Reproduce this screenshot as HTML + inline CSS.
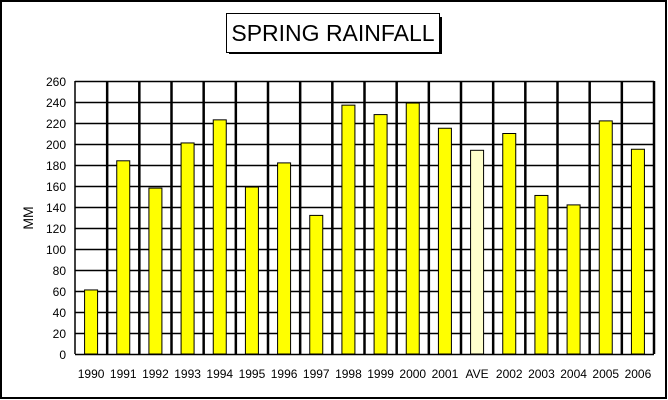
<!DOCTYPE html>
<html><head><meta charset="utf-8"><style>
html,body{margin:0;padding:0;background:#fff;}
svg{display:block;font-family:"Liberation Sans",Arial,sans-serif;}
</style></head><body>
<svg id="chart" width="668" height="400">
<rect x="1" y="1" width="665" height="397" fill="#fff" stroke="#000" stroke-width="2"/>
<rect x="229" y="17" width="213" height="37" fill="#000"/>
<rect x="226.5" y="13.5" width="213" height="39" fill="#fff" stroke="#000"/>
<text x="333" y="41" text-anchor="middle" font-size="23">SPRING RAINFALL</text>
<text transform="translate(33,218) rotate(-90)" text-anchor="middle" font-size="14">MM</text>
<g id="grid"></g><g id="bars"></g><g id="labels"></g>
</svg>
<script>
const categories=["1990","1991","1992","1993","1994","1995","1996","1997","1998","1999","2000","2001","AVE","2002","2003","2004","2005","2006"];
const rainfall=[61,184,158,201,223,159,182,132,237,228,239,215,194,210,151,142,222,195];
const yTicks=[0,20,40,60,80,100,120,140,160,180,200,220,240,260];
const NS="http://www.w3.org/2000/svg";
const L=75,R=654,T=81,B=354,YMAX=260;
const bw=(R-L)/categories.length;
const y=v=>B-(v/YMAX)*(B-T);
const x=i=>L+i*bw;
function mk(tag,attrs,parent){const e=document.createElementNS(NS,tag);for(const k in attrs)e.setAttribute(k,attrs[k]);document.getElementById(parent).appendChild(e);return e;}
yTicks.forEach(t=>{
 const l=mk('line',{x1:L,x2:R,y1:y(t)+0.5,y2:y(t)+0.5,stroke:'#000','stroke-width':1.5},'grid');
 
 
 const tx=mk('text',{x:L-9,y:y(t)+5,'text-anchor':'end','font-size':12},'labels');
 tx.textContent=t;
 
 
});
for(let i=0;i<=categories.length;i++){
 const l=mk('line',{x1:x(i),x2:x(i),y1:T,y2:B,stroke:'#000','stroke-width':i==0?1.5:2.5},'grid');
 
 
}
categories.forEach((c,i)=>{
 const cx=x(i)+bw/2;
 const r=mk('rect',{x:cx-6.5,y:y(rainfall[i]),width:13,height:B-y(rainfall[i]),fill:c==='AVE'?'#ffffcc':'#ffff00',stroke:'#000','stroke-width':1},'bars');
 
 
 const tx=mk('text',{x:cx,y:378,'text-anchor':'middle','font-size':12},'labels');
 tx.textContent=c;
 
 
});
</script>
</body></html>
